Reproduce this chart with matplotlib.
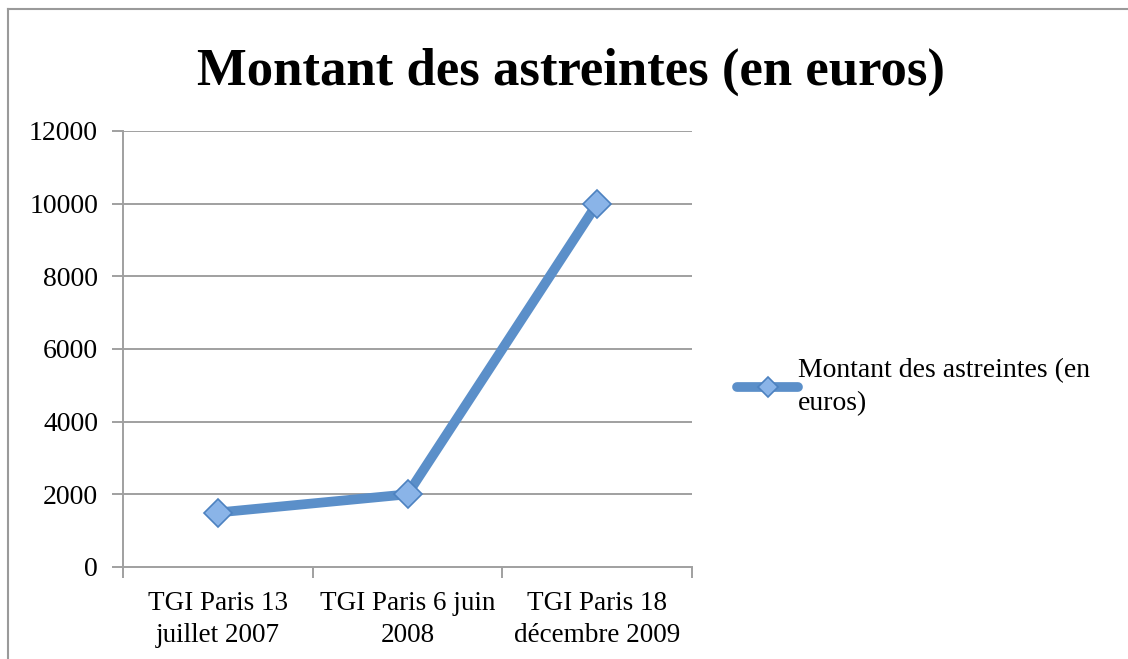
import matplotlib
matplotlib.use("Agg")
import matplotlib.pyplot as plt
from matplotlib.lines import Line2D

categories = ["TGI Paris 13\njuillet 2007", "TGI Paris 6 juin\n2008", "TGI Paris 18\ndécembre 2009"]
values = [1500, 2000, 10000]
series_name = "Montant des astreintes (en\neuros)"
title = "Montant des astreintes (en euros)"
yticks = [0, 2000, 4000, 6000, 8000, 10000, 12000]

W, H = 1128, 659
fig = plt.figure(figsize=(W / 100, H / 100), dpi=100)
plt.rcParams['font.family'] = ['Liberation Serif', 'DejaVu Serif']

x0, x1 = 123, 692
y0, y1 = 567, 131
ax = fig.add_axes([x0 / W, 1 - y0 / H, (x1 - x0) / W, (y0 - y1) / H])

grid_c = "#a0a0a0"
xs = list(range(len(categories)))
ax.set_xlim(-0.5, len(categories) - 0.5)
ax.set_ylim(0, 12000)
ax.set_yticks(yticks)
ax.set_yticklabels([str(v) for v in yticks])
for v in yticks[1:]:
    ax.axhline(v, color=grid_c, lw=1.4, zorder=0)

ax.plot(xs, values, color="#5b8fc9", lw=7, solid_capstyle="round", zorder=3,
        marker="D", markersize=14.5, markerfacecolor="#8ab4e8", markeredgecolor="#4d82c0",
        markeredgewidth=1.2, label=series_name)

for s in ["top", "right"]:
    ax.spines[s].set_visible(False)
for s in ["left", "bottom"]:
    ax.spines[s].set_color(grid_c)
    ax.spines[s].set_linewidth(1.4)

ax.set_xticks([-0.5, 0.5, 1.5, 2.5], minor=False)
ax.set_xticklabels([])
ax.set_xticks(xs, minor=True)
ax.set_xticklabels(categories, minor=True, fontsize=19.5, linespacing=1.38)
ax.tick_params(axis="x", which="major", length=8, width=1.4, color=grid_c, direction="out")
ax.tick_params(axis="x", which="minor", length=0, pad=17)
ax.tick_params(axis="y", length=8, width=1.4, color=grid_c, direction="out", labelsize=20, pad=10)

fig.text(571 / W, 1 - 72 / H, title, ha="center", va="center", fontsize=38, fontweight="bold")

leg = fig.legend(loc="center left", bbox_to_anchor=(737 / W, 1 - 387 / H), frameon=False,
                 fontsize=20, handlelength=2.2, handletextpad=0.0, borderpad=0, borderaxespad=0,
                 labelspacing=0.2)
for t in leg.get_texts():
    t.set_linespacing(1.38)
for h in leg.legend_handles:
    h.set_markersize(10)

fig.add_artist(Line2D([8 / W, 8 / W], [0, 1 - 9 / H], transform=fig.transFigure, color="#9a9a9a", lw=1.5))
fig.add_artist(Line2D([8 / W, 1], [1 - 9 / H, 1 - 9 / H], transform=fig.transFigure, color="#9a9a9a", lw=1.5))

fig.savefig("out.png", dpi=100)
